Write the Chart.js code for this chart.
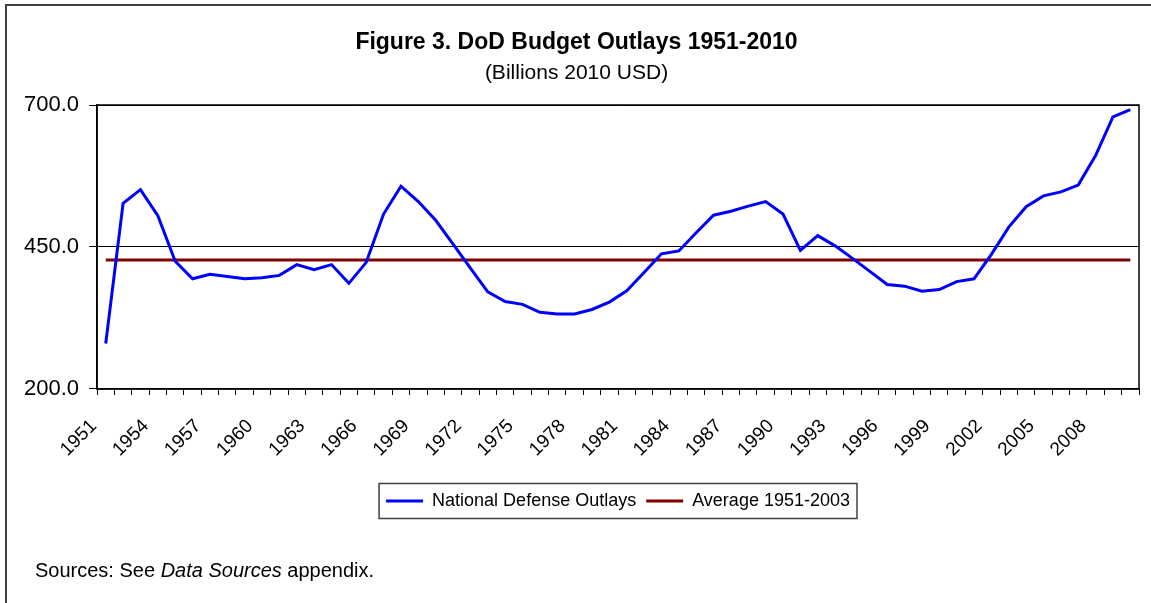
<!DOCTYPE html>
<html>
<head>
<meta charset="utf-8">
<title>DoD Budget Outlays 1951-2010</title>
<script src="https://cdn.jsdelivr.net/npm/chart.js@4.4.0/dist/chart.umd.min.js"></script>
<style>
  html, body { margin: 0; padding: 0; background: #fff; overflow: hidden; }
  #frame { position: absolute; left: 5px; top: 4px; width: 1200px; height: 700px;
           border-left: 2px solid #404040; border-top: 2px solid #404040; }
  #chart { position: absolute; left: 0; top: 0; }
  #sources { position: absolute; left: 35px; top: 559px; color: #000;
             font: 20px/22px "Liberation Sans", Arial, sans-serif; }
</style>
</head>
<body>
<div id="frame"></div>
<canvas id="chart" width="1151" height="603"></canvas>
<div id="sources">Sources: See <i>Data Sources</i> appendix.</div>
<script>
// Gasto de defensa (miles de millones, USD de 2010)
const years = [
  "1951", "1952", "1953", "1954", "1955", "1956", "1957", "1958", "1959", "1960",
  "1961", "1962", "1963", "1964", "1965", "1966", "1967", "1968", "1969", "1970",
  "1971", "1972", "1973", "1974", "1975", "1976", "1977", "1978", "1979", "1980",
  "1981", "1982", "1983", "1984", "1985", "1986", "1987", "1988", "1989", "1990",
  "1991", "1992", "1993", "1994", "1995", "1996", "1997", "1998", "1999", "2000",
  "2001", "2002", "2003", "2004", "2005", "2006", "2007", "2008", "2009", "2010"
];
const outlays = [
  280, 527, 551, 505, 425, 394, 402, 398, 394, 396,
  400, 419, 410, 419, 386, 423, 508, 557, 530, 497,
  455, 413, 371, 354, 349, 335, 332, 332, 340, 353,
  373, 405, 438, 443, 475, 506, 513, 522, 530, 508,
  444, 470, 452, 430, 407, 384, 381, 372, 375, 389,
  394, 437, 485, 521, 540, 547, 559, 611, 679, 692
];
// media 1951-2003, línea horizontal
const average = [
  427, 427, 427, 427, 427, 427, 427, 427, 427, 427,
  427, 427, 427, 427, 427, 427, 427, 427, 427, 427,
  427, 427, 427, 427, 427, 427, 427, 427, 427, 427,
  427, 427, 427, 427, 427, 427, 427, 427, 427, 427,
  427, 427, 427, 427, 427, 427, 427, 427, 427, 427,
  427, 427, 427, 427, 427, 427, 427, 427, 427, 427
];
const tickYears = ["1951", "1954", "1957", "1960", "1963", "1966", "1969", "1972", "1975", "1978",
                   "1981", "1984", "1987", "1990", "1993", "1996", "1999", "2002", "2005", "2008"];
const yTicks = [200, 450, 700];

Chart.defaults.font.family = '"Liberation Sans", Arial, sans-serif';
Chart.defaults.color = "#000";

// borde del área de trazado y recuadro de la leyenda
const framePlugin = {
  id: "frames",
  afterDraw(chart) {
    const ctx = chart.ctx;
    const a = chart.chartArea;
    ctx.save();
    ctx.strokeStyle = "#000";
    ctx.lineWidth = 1.5;
    ctx.strokeRect(a.left, a.top, a.right - a.left, a.bottom - a.top);
    const boxes = chart.legend.legendHitBoxes;
    if (boxes && boxes.length) {
      const left = Math.min(...boxes.map(b => b.left)) - 7;
      const right = Math.max(...boxes.map(b => b.left + b.width)) + 7;
      const mid = boxes[0].top + boxes[0].height / 2;
      ctx.strokeStyle = "#404040";
      ctx.strokeRect(left, mid - 17.5, right - left, 35);
    }
    ctx.restore();
  }
};

new Chart(document.getElementById("chart"), {
  type: "line",
  data: {
    labels: years,
    datasets: [
      { label: "National Defense Outlays", data: outlays, borderColor: "#0000ff", backgroundColor: "#0000ff",
        borderWidth: 3, pointRadius: 0, tension: 0, fill: false },
      { label: "Average 1951-2003", data: average, borderColor: "#800000", backgroundColor: "#800000",
        borderWidth: 3, pointRadius: 0, fill: false }
    ]
  },
  options: {
    responsive: false,
    animation: false,
    events: [],
    layout: { padding: { top: 29, left: 14, right: 12, bottom: 83 } },
    plugins: {
      title: { display: true, text: "Figure 3. DoD Budget Outlays 1951-2010", color: "#000",
               font: { size: 23, weight: "bold" }, padding: { top: 0, bottom: 3.6 } },
      subtitle: { display: true, text: "(Billions 2010 USD)", color: "#000",
                  font: { size: 21 }, padding: { top: 0, bottom: 19.6 } },
      legend: {
        position: "bottom",
        fullSize: false,
        labels: { usePointStyle: true, pointStyle: "line", pointStyleWidth: 37,
                  font: { size: 18 }, padding: 10, color: "#000" }
      },
      tooltip: { enabled: false }
    },
    scales: {
      x: {
        offset: true,
        grid: { offset: true, drawOnChartArea: false, tickLength: 6, tickColor: "#000", color: "#000" },
        border: { color: "#000", width: 1.5 },
        ticks: {
          autoSkip: false, minRotation: 45, maxRotation: 45, padding: 20, labelOffset: -12,
          font: { size: 19 }, color: "#000",
          callback: (v, i) => tickYears.includes(years[i]) ? years[i] : ""
        },
        afterFit: scale => {
          // sin relleno lateral extra por las etiquetas giradas
          scale.paddingLeft = 0;
          scale.paddingRight = 0;
          scale.height += 1;
        }
      },
      y: {
        min: 200,
        max: 700,
        afterBuildTicks: scale => { scale.ticks = yTicks.map(v => ({ value: v })); },
        grid: { color: "#000", lineWidth: 1, tickLength: 8 },
        border: { color: "#000", width: 1.5 },
        ticks: { padding: 10, font: { size: 22 }, color: "#000", callback: v => v.toFixed(1) }
      }
    }
  },
  plugins: [framePlugin]
});
</script>
</body>
</html>
